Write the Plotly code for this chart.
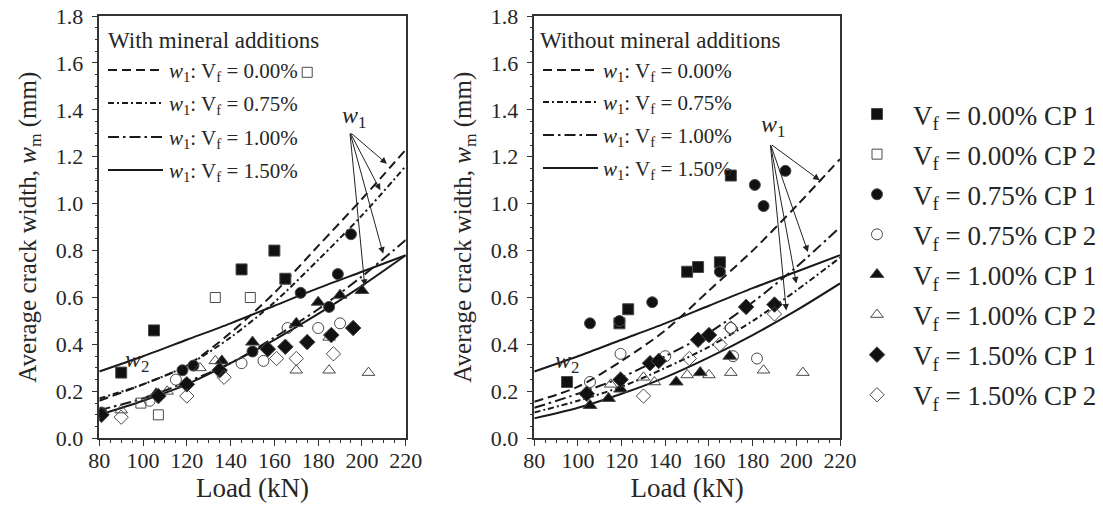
import plotly.graph_objects as go

# ---------------- data ----------------
series_names = ["V<sub>f</sub> = 0.00% CP 1", "V<sub>f</sub> = 0.00% CP 2",
                "V<sub>f</sub> = 0.75% CP 1", "V<sub>f</sub> = 0.75% CP 2",
                "V<sub>f</sub> = 1.00% CP 1", "V<sub>f</sub> = 1.00% CP 2",
                "V<sub>f</sub> = 1.50% CP 1", "V<sub>f</sub> = 1.50% CP 2"]

# Left panel: with mineral additions  (load kN, crack width mm)
L00_1_x = [90, 105, 145, 160, 165]
L00_1_y = [0.28, 0.46, 0.72, 0.80, 0.68]
L00_2_x = [99, 107, 133, 149, 175]
L00_2_y = [0.15, 0.10, 0.60, 0.60, 1.56]
L075_1_x = [81, 118, 123, 150, 172, 185, 189, 195]
L075_1_y = [0.11, 0.29, 0.31, 0.37, 0.62, 0.56, 0.70, 0.87]
L075_2_x = [103, 115, 145, 155, 166, 180, 190]
L075_2_y = [0.16, 0.25, 0.32, 0.33, 0.47, 0.47, 0.49]
L100_1_x = [106, 119, 136, 150, 170, 180, 190, 200]
L100_1_y = [0.19, 0.23, 0.33, 0.41, 0.49, 0.58, 0.61, 0.63]
L100_2_x = [90, 111, 126, 133, 170, 185, 185, 203]
L100_2_y = [0.12, 0.20, 0.30, 0.33, 0.29, 0.29, 0.43, 0.28]
L150_1_x = [81, 107, 120, 135, 157, 165, 175, 186, 196]
L150_1_y = [0.10, 0.18, 0.23, 0.29, 0.38, 0.39, 0.41, 0.44, 0.47]
L150_2_x = [90, 120, 137, 161, 170, 187]
L150_2_y = [0.09, 0.18, 0.26, 0.34, 0.34, 0.36]

# Right panel: without mineral additions
R00_1_x = [95, 119, 123, 150, 155, 165, 170]
R00_1_y = [0.24, 0.49, 0.55, 0.71, 0.73, 0.75, 1.12]
R00_2_x = []
R00_2_y = []
R075_1_x = [105.5, 119, 134, 165, 181, 185, 195]
R075_1_y = [0.49, 0.50, 0.58, 0.71, 1.08, 0.99, 1.14]
R075_2_x = [105.5, 119.5, 140, 170, 171, 182]
R075_2_y = [0.24, 0.36, 0.35, 0.47, 0.35, 0.34]
R100_1_x = [105.5, 114, 119.5, 145, 156, 169.5]
R100_1_y = [0.14, 0.17, 0.21, 0.24, 0.28, 0.35]
R100_2_x = [115, 130, 135, 150, 160, 170, 185, 203]
R100_2_y = [0.23, 0.26, 0.24, 0.27, 0.27, 0.28, 0.29, 0.28]
R150_1_x = [104, 119.5, 133, 137, 155, 160, 177, 190]
R150_1_y = [0.19, 0.25, 0.32, 0.33, 0.42, 0.44, 0.56, 0.57]
R150_2_x = [130, 151, 165, 170, 190]
R150_2_y = [0.18, 0.34, 0.40, 0.47, 0.53]

# model curves (read at these loads)
curve_load = [80, 100, 120, 140, 160, 180, 200, 220]
w1_00_L = [0.16, 0.23, 0.31, 0.45, 0.62, 0.82, 1.02, 1.23]
w1_075_L = [0.17, 0.23, 0.31, 0.43, 0.58, 0.76, 0.95, 1.16]
w1_100_L = [0.12, 0.17, 0.24, 0.32, 0.43, 0.55, 0.69, 0.845]
w1_150_L = [0.10, 0.16, 0.23, 0.32, 0.42, 0.53, 0.65, 0.78]
w2_L = [0.285, 0.35, 0.42, 0.49, 0.565, 0.64, 0.71, 0.78]

w1_00_R = [0.156, 0.22, 0.33, 0.46, 0.63, 0.80, 0.99, 1.19]
w1_075_R = [0.11, 0.16, 0.22, 0.30, 0.39, 0.50, 0.63, 0.77]
w1_100_R = [0.13, 0.19, 0.26, 0.35, 0.45, 0.58, 0.73, 0.90]
w1_150_R = [0.085, 0.13, 0.19, 0.26, 0.345, 0.44, 0.545, 0.66]
w2_R = [0.285, 0.35, 0.42, 0.49, 0.565, 0.64, 0.71, 0.78]

curve_names = ["<i>w</i><sub>1</sub>: V<sub>f</sub> = 0.00%",
               "<i>w</i><sub>1</sub>: V<sub>f</sub> = 0.75%",
               "<i>w</i><sub>1</sub>: V<sub>f</sub> = 1.00%",
               "<i>w</i><sub>1</sub>: V<sub>f</sub> = 1.50%"]
panel_titles = ["With mineral additions", "Without mineral additions"]

# arrow annotations: tail and tips (load, width)
arrows_L_tail = (194.5, 1.305)
arrows_L_tips = [(211.4, 1.17), (208.4, 1.057), (209.7, 0.787), (201.3, 0.65)]
arrows_R_tail = (188.1, 1.255)
arrows_R_tips = [(210.7, 1.10), (205.3, 0.794), (200.0, 0.66), (195.4, 0.545)]

# ---------------- styling ----------------
W, H = 1103, 524
FONT = "Liberation Serif, Times New Roman, serif"
TXT = "#262626"
symbols = ["square", "square-open", "circle", "circle-open",
           "triangle-up", "triangle-up-open", "diamond", "diamond-open"]
sizes = [11, 10, 11, 11, 12, 11, 12, 11]
dashes = ["9px,5px", "6px,3px,2px,3px", "11px,4px,2.5px,4px", "solid"]


def px(xp):
    return xp / W


def py(yp):
    return 1 - yp / H


fig = go.Figure()

left_sets = [(L00_1_x, L00_1_y), (L00_2_x, L00_2_y), (L075_1_x, L075_1_y), (L075_2_x, L075_2_y),
             (L100_1_x, L100_1_y), (L100_2_x, L100_2_y), (L150_1_x, L150_1_y), (L150_2_x, L150_2_y)]
right_sets = [(R00_1_x, R00_1_y), (R00_2_x, R00_2_y), (R075_1_x, R075_1_y), (R075_2_x, R075_2_y),
              (R100_1_x, R100_1_y), (R100_2_x, R100_2_y), (R150_1_x, R150_1_y), (R150_2_x, R150_2_y)]

left_curves = [w1_00_L, w1_075_L, w1_100_L, w1_150_L]
right_curves = [w1_00_R, w1_075_R, w1_100_R, w1_150_R]

for curves, w2, xa, ya in [(left_curves, w2_L, "x", "y"), (right_curves, w2_R, "x2", "y2")]:
    for i, c in enumerate(curves):
        fig.add_trace(go.Scatter(x=curve_load, y=c, mode="lines", name=curve_names[i], showlegend=False,
                                 line=dict(color="#1a1a1a", width=2, dash=dashes[i], shape="spline", smoothing=0.8),
                                 xaxis=xa, yaxis=ya))
    fig.add_trace(go.Scatter(x=curve_load, y=w2, mode="lines", name="w2", showlegend=False,
                             line=dict(color="#1a1a1a", width=2, shape="spline", smoothing=0.8),
                             xaxis=xa, yaxis=ya))

for sets, xa, ya, show in [(left_sets, "x", "y", True), (right_sets, "x2", "y2", False)]:
    for i, (xs, ys) in enumerate(sets):
        fig.add_trace(go.Scatter(x=xs, y=ys, mode="markers", name=series_names[i],
                                 legendgroup=f"g{i}", showlegend=show,
                                 marker=dict(symbol=symbols[i], size=sizes[i],
                                             color="#111111" if i % 2 == 0 else "#4a4a4a",
                                             line=dict(width=1, color="#4a4a4a")),
                                 xaxis=xa, yaxis=ya))

annotations = []
shapes = []
for tail, tips, xr, yr in [(arrows_L_tail, arrows_L_tips, "x", "y"), (arrows_R_tail, arrows_R_tips, "x2", "y2")]:
    for (tx, ty) in tips:
        annotations.append(dict(x=tx, y=ty, ax=tail[0], ay=tail[1],
                                xref=xr, yref=yr, axref=xr, ayref=yr, text="",
                                showarrow=True, arrowhead=2, arrowsize=1.3, arrowwidth=1, arrowcolor="#222"))
lab_font = dict(family=FONT, size=24, color=TXT)
annotations += [
    dict(x=196.5, y=1.37, xref="x", yref="y", text="<i>w</i><sub>1</sub>", showarrow=False, font=lab_font),
    dict(x=189.5, y=1.33, xref="x2", yref="y2", text="<i>w</i><sub>1</sub>", showarrow=False, font=lab_font),
    dict(x=97, y=0.33, xref="x", yref="y", text="<i>w</i><sub>2</sub>", showarrow=False, font=lab_font),
    dict(x=95, y=0.325, xref="x2", yref="y2", text="<i>w</i><sub>2</sub>", showarrow=False, font=lab_font),
]

# in-panel line keys (title + 4 line samples with labels)
key_layout = [  # (title_x, line_x0, line_x1, text_x, row ys)
    (106, 108, 163, 167, [70, 103, 137, 170]),
    (538, 543, 598, 601, [70, 102, 135, 168]),
]
for p, (tx0, lx0, lx1, txx, rows) in enumerate(key_layout):
    annotations.append(dict(x=px(tx0), y=py(40), xref="paper", yref="paper", xanchor="left", yanchor="middle",
                            text=panel_titles[p], showarrow=False, font=dict(family=FONT, size=23, color=TXT)))
    for i, ry in enumerate(rows):
        shapes.append(dict(type="line", xref="paper", yref="paper", x0=px(lx0), x1=px(lx1), y0=py(ry), y1=py(ry),
                           line=dict(color="#1a1a1a", width=2, dash=dashes[i])))
        annotations.append(dict(x=px(txx), y=py(ry + 2), xref="paper", yref="paper", xanchor="left", yanchor="middle",
                                text=curve_names[i], showarrow=False, font=dict(family=FONT, size=21, color=TXT)))

fig.update_layout(
    template="none",
    width=W, height=H,
    margin=dict(l=0, r=0, t=0, b=0, pad=0, autoexpand=False),
    paper_bgcolor="white", plot_bgcolor="white",
    font=dict(family=FONT, color=TXT, size=22),
    xaxis=dict(domain=[px(99.3), px(405.7)], anchor="y"),
    yaxis=dict(domain=[py(438.3), py(16)], anchor="x"),
    xaxis2=dict(domain=[px(534.3), px(840)], anchor="y2"),
    yaxis2=dict(domain=[py(438.3), py(16)], anchor="x2"),
    legend=dict(x=px(841), y=py(90), xanchor="left", yanchor="top", bgcolor="rgba(0,0,0,0)",
                font=dict(family=FONT, size=27, color=TXT), tracegroupgap=2, itemwidth=62),
    annotations=annotations,
    shapes=shapes,
    showlegend=True,
)

common = dict(showline=True, linecolor="#333", linewidth=1.5, mirror=True, automargin=False,
              ticks="outside", ticklen=6, tickwidth=1.2, tickcolor="#333",
              showgrid=False, zeroline=False,
              tickfont=dict(family=FONT, size=22, color=TXT))
fig.update_xaxes(**common, range=[80, 220], tick0=80, dtick=20, ticklabelstandoff=-4,
                 minor=dict(dtick=5, ticks="outside", ticklen=3, tickcolor="#333", showgrid=False),
                 title=dict(text="Load (kN)", font=dict(family=FONT, size=27, color=TXT), standoff=2))
fig.update_yaxes(**common, range=[0, 1.8], tick0=0, dtick=0.2, tickformat=".1f", ticklabelstandoff=4,
                 minor=dict(dtick=0.05, ticks="outside", ticklen=3, tickcolor="#333", showgrid=False),
                 title=dict(text="Average crack width, <i>w</i><sub>m</sub> (mm)",
                            font=dict(family=FONT, size=25, color=TXT), standoff=12))

fig.write_html("out.html", config={"displayModeBar": False},
               post_script="document.body.style.margin='0';")
